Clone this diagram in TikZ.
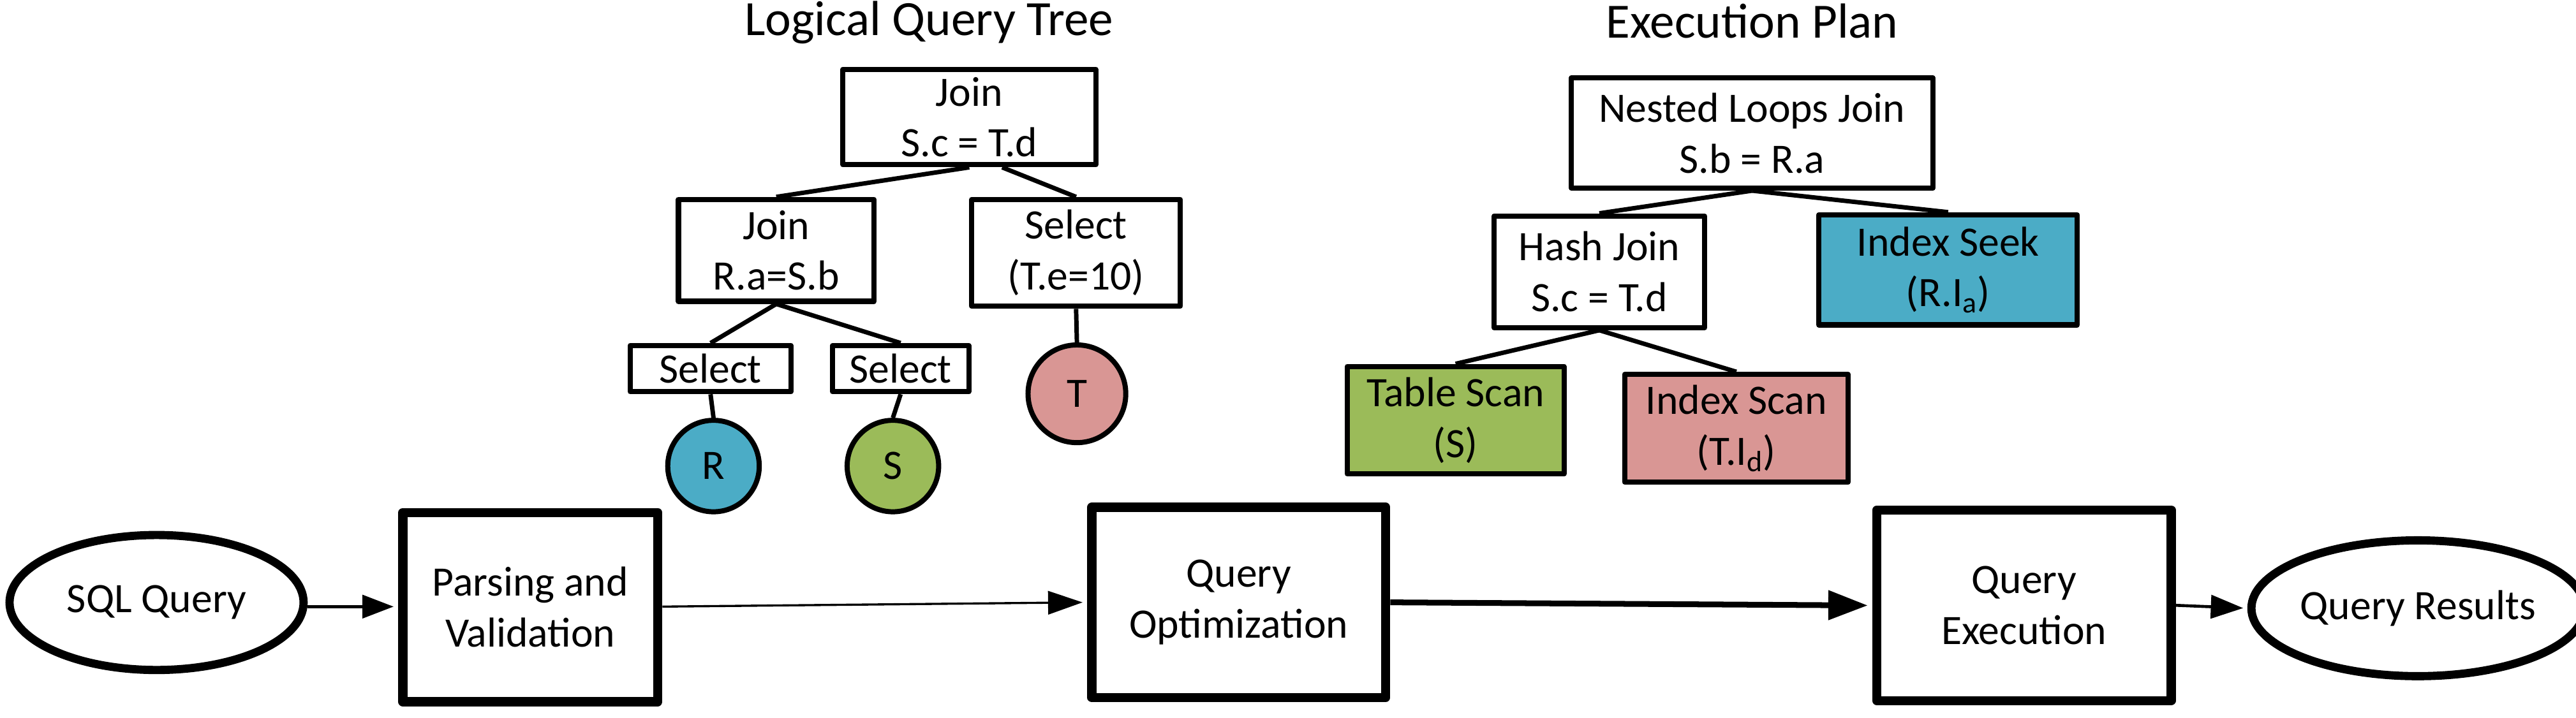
\documentclass[tikz,border=0pt]{standalone}
\usepackage{fontspec}
\setmainfont{Carlito}
\usetikzlibrary{arrows.meta,shapes.geometric}
\definecolor{cblue}{RGB}{75,172,198}
\definecolor{cgreen}{RGB}{155,187,89}
\definecolor{cpink}{RGB}{217,150,148}
\newcommand{\myNodeFont}{\fontsize{25.5pt}{31pt}\selectfont}
\newcommand{\myTitleFont}{\fontsize{30pt}{36pt}\selectfont}
\begin{document}
\begin{tikzpicture}[x=1pt,y=1pt,
  tbox/.style={draw, rectangle, line width=3.2pt, inner sep=0pt, align=center, font=\myNodeFont, line join=round},
  pbox/.style={draw, rectangle, line width=5.6pt, inner sep=0pt, align=center, font=\myNodeFont, line join=round},
  tcirc/.style={draw, circle, line width=3.1pt, inner sep=0pt, font=\myNodeFont},
  oval/.style={draw, ellipse, line width=5pt, inner sep=0pt, font=\myNodeFont},
  tline/.style={line width=2.7pt},
  title/.style={anchor=base, inner sep=0pt, font=\myTitleFont},
]
\useasboundingbox (0,0) rectangle (1568,-437);

% titles
\node[title] (t1) at (565.5,-21.4) {Logical Query Tree};
\node[title] (t2) at (1066.5,-23) {Execution Plan};

% logical query tree
\node[tbox, minimum width=154pt, minimum height=58pt] (j1) at (590,-71.3) {Join\\S.c = T.d};
\node[tbox, minimum width=119pt, minimum height=62pt] (j2) at (472.5,-152.5) {Join\\R.a=S.b};
\node[tbox, minimum width=127pt, minimum height=65pt] (selT) at (655,-154) {Select\\(T.e=10)};
\node[tbox, minimum width=98pt, minimum height=28pt] (selR) at (432.5,-224.5) {Select};
\node[tbox, minimum width=83pt, minimum height=28pt] (selS) at (548.2,-224.5) {Select};
\node[tcirc, fill=cblue, minimum size=55.7pt] (R) at (434.3,-283.8) {R};
\node[tcirc, fill=cgreen, minimum size=55.7pt] (S) at (543.5,-283.8) {S};
\node[tcirc, fill=cpink, minimum size=59.5pt] (T) at (655.5,-239.8) {T};

\draw[tline] (j1.south) -- (j2.north);
\draw[tline] ([xshift=20pt]j1.south) -- (selT.north);
\draw[tline] (j2.south) -- (selR.north);
\draw[tline] (j2.south) -- (selS.north);
\draw[tline] (selR.south) -- (R.north);
\draw[tline] (selS.south) -- (S.north);
\draw[tline] (selT.south) -- (T.north);

% execution plan
\node[tbox, minimum width=220pt, minimum height=67pt] (nlj) at (1066.5,-81) {Nested Loops Join\\S.b = R.a};
\node[tbox, minimum width=128pt, minimum height=68pt] (hj) at (973.5,-165.5) {Hash Join\\S.c = T.d};
\node[tbox, fill=cblue, minimum width=157.3pt, minimum height=67pt] (seek) at (1185.8,-164.3) {Index Seek\\(R.I\textsubscript{a})};
\node[tbox, fill=cgreen, minimum width=132pt, minimum height=65.5pt] (tscan) at (886,-255.9) {Table Scan\\(S)};
\node[tbox, fill=cpink, minimum width=136pt, minimum height=65.6pt] (iscan) at (1056.9,-260.8) {Index Scan\\(T.I\textsubscript{d})};

\draw[tline] (nlj.south) -- (hj.north);
\draw[tline] (nlj.south) -- (seek.north);
\draw[tline] (hj.south) -- (tscan.north);
\draw[tline] (hj.south) -- (iscan.north);

% pipeline
\node[oval, minimum width=179pt, minimum height=82.2pt] (sql) at (95.3,-366.9) {SQL Query};
\node[pbox, minimum width=155.2pt, minimum height=115.2pt] (parse) at (322.8,-369.7) {Parsing and\\Validation};
\node[pbox, minimum width=178.9pt, minimum height=115.9pt] (opt) at (754,-366.8) {Query\\Optimization};
\node[pbox, minimum width=179.1pt, minimum height=116.1pt] (exec) at (1232,-368.6) {Query\\Execution};
\node[oval, minimum width=180.6pt, minimum height=82.7pt] (res) at (1471.8,-370.4) {Query Results};

\draw[line width=2pt, -{Triangle[length=19pt,width=14pt]}, shorten >=2.8pt] (sql.east |- 0,-369.4) -- (parse.west |- 0,-369.4);
\draw[line width=1.3pt, -{Triangle[length=21pt,width=14.2pt]}, shorten >=2.8pt] (parse.east |- 0,-369.4) -- (opt.west |- 0,-366.8);
\draw[line width=3.5pt, -{Triangle[length=24pt,width=17.4pt]}, shorten >=2.8pt] (opt.east |- 0,-366.8) -- (exec.west |- 0,-368.7);
\draw[line width=1.8pt, -{Triangle[length=19.7pt,width=14.2pt]}, shorten >=2.5pt] (exec.east |- 0,-368.6) -- (res.west);
\end{tikzpicture}
\end{document}
